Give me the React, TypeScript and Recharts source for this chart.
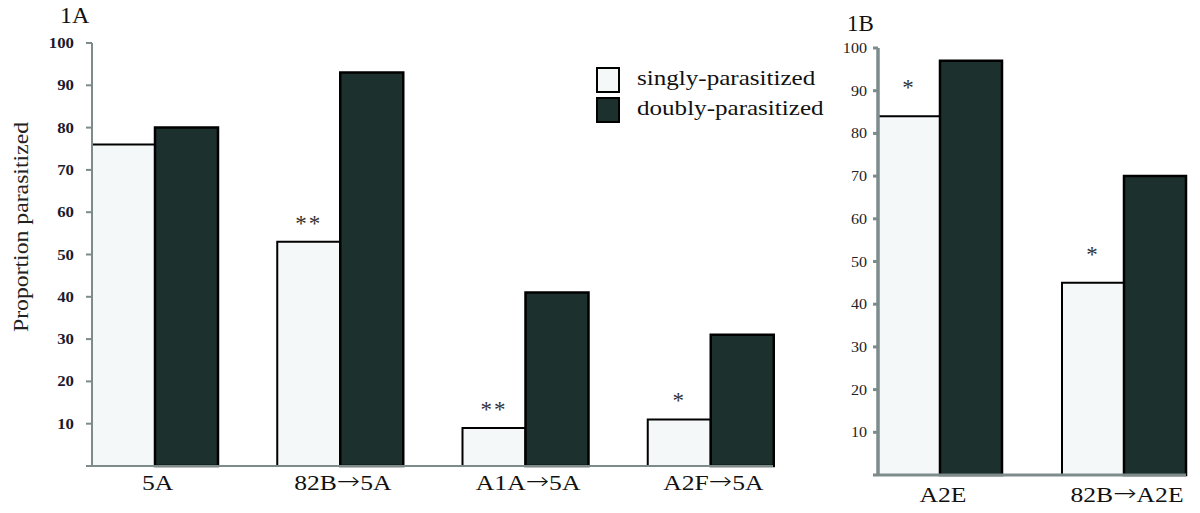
import React from 'react';
import { BarChart, Bar, XAxis, YAxis, LabelList } from 'recharts';

const categoriesA = ['5A', '82B→5A', 'A1A→5A', 'A2F→5A'];
const singlyA = [76, 53, 9, 11];
const doublyA = [80, 93, 41, 31];
const sigA = ['', '**', '**', '*'];

const categoriesB = ['A2E', '82B→A2E'];
const singlyB = [84, 45];
const doublyB = [97, 70];
const sigB = ['*', '*'];

const yTicks = [0, 10, 20, 30, 40, 50, 60, 70, 80, 90, 100];
const seriesNames = ['singly-parasitized', 'doubly-parasitized'];

const dataA = categoriesA.map((name, i) => ({ name, singly: singlyA[i], doubly: doublyA[i], sig: sigA[i] }));
const dataB = categoriesB.map((name, i) => ({ name, singly: singlyB[i], doubly: doublyB[i], sig: sigB[i] }));

const SERIF = '"Liberation Serif", "Times New Roman", "DejaVu Serif", serif';
const LIGHT = '#f5f8f8';
const DARK = '#1c302e';
const AXIS = '#7d8b8b';

function SText({ x, y, sx = 1, rot = 0, anchor = 'start', size, weight = 'normal', fill = '#111', children, spacing = 0 }: any) {
  return (
    <text
      x={0}
      y={0}
      transform={`translate(${x},${y}) rotate(${rot}) scale(${sx},1)`}
      textAnchor={anchor}
      fontFamily={SERIF}
      fontSize={size}
      fontWeight={weight}
      fill={fill}
      letterSpacing={spacing}
    >
      {children}
    </text>
  );
}

const renderArrowText = (s: string) => {
  const parts = s.split('→');
  if (parts.length === 1) return s;
  return [
    <tspan key="a">{parts[0]}</tspan>,
    <tspan key="b" fontFamily='"DejaVu Sans", sans-serif' fontSize={23} fontWeight={300} dy={-1}>→</tspan>,
    <tspan key="c" dy={1}>{parts[1]}</tspan>,
  ];
};

const makeYTick = (bold: boolean, sx: number) => (props: any) => {
  const { x, y, payload } = props;
  if (payload.value === 0) return <g />;
  return (
    <g>
      <SText x={x} y={y + 5} sx={sx} anchor="end" size={14} weight={bold ? 'bold' : 'normal'} fill={bold ? '#1a1a30' : '#222'}>
        {payload.value}
      </SText>
    </g>
  );
};

const makeXTick = (dy: number) => (props: any) => {
  const { x, y, payload } = props;
  return (
    <g>
      <SText x={x + 3} y={y + dy} sx={1.22} anchor="middle" size={21}>
        {renderArrowText(String(payload.value))}
      </SText>
    </g>
  );
};

const makeSig = (offset: number) => (props: any) => {
  const { x, y, width, value } = props;
  if (!value) return <g />;
  return (
    <SText x={x + width / 2} y={y - offset + 13} anchor="middle" size={23} fill="#333" spacing={2}>
      {value}
    </SText>
  );
};

export default function App() {
  return (
    <div style={{ position: 'absolute', left: 0, top: 0, width: 1200, height: 513, background: '#fff', overflow: 'hidden' }}>
      <div style={{ position: 'absolute', left: 0, top: 0 }}>
        <BarChart
          width={840}
          height={513}
          data={dataA}
          margin={{ top: 43, right: 67, bottom: 17, left: 52 }}
          barCategoryGap={30}
          barGap={0}
        >
          <XAxis
            dataKey="name"
            padding={{ left: -30, right: -30 }}
            axisLine={{ stroke: AXIS, strokeWidth: 2 }}
            tickLine={false}
            tickSize={0}
            tickMargin={0}
            height={30}
            interval={0}
            tick={makeXTick(24)}
          />
          <YAxis
            type="number"
            domain={[0, 100]}
            ticks={yTicks}
            interval={0}
            width={40}
            axisLine={{ stroke: AXIS, strokeWidth: 2 }}
            tickLine={{ stroke: AXIS, strokeWidth: 2 }}
            tickSize={6}
            tickMargin={12}
            tick={makeYTick(true, 1.2)}
            label={{
              content: () => (
                <SText x={28} y={227} rot={-90} sx={1.13} anchor="middle" size={21} fill="#222">
                  Proportion parasitized
                </SText>
              ),
            }}
          />
          <Bar dataKey="singly" name={seriesNames[0]} fill={LIGHT} stroke="#000" strokeWidth={2} isAnimationActive={false}>
            <LabelList dataKey="sig" content={makeSig(24)} />
          </Bar>
          <Bar dataKey="doubly" name={seriesNames[1]} fill={DARK} stroke="#000" strokeWidth={2.5} isAnimationActive={false} />
        </BarChart>
      </div>

      <div style={{ position: 'absolute', left: 830, top: 0 }}>
        <BarChart
          width={370}
          height={513}
          data={dataB}
          margin={{ top: 48, right: 14, bottom: 8, left: 18 }}
          barCategoryGap={30}
          barGap={0}
        >
          <XAxis
            dataKey="name"
            padding={{ left: -30, right: -30 }}
            axisLine={{ stroke: AXIS, strokeWidth: 3 }}
            tickLine={false}
            tickSize={0}
            tickMargin={0}
            height={30}
            interval={0}
            tick={makeXTick(27)}
          />
          <YAxis
            type="number"
            domain={[0, 100]}
            ticks={yTicks}
            interval={0}
            width={30}
            axisLine={{ stroke: AXIS, strokeWidth: 3.5 }}
            tickLine={{ stroke: AXIS, strokeWidth: 3 }}
            tickSize={5}
            tickMargin={6}
            tick={makeYTick(false, 1.15)}
          />
          <Bar dataKey="singly" name={seriesNames[0]} fill={LIGHT} stroke="#000" strokeWidth={2} isAnimationActive={false}>
            <LabelList dataKey="sig" content={makeSig(34)} />
          </Bar>
          <Bar dataKey="doubly" name={seriesNames[1]} fill={DARK} stroke="#000" strokeWidth={2.5} isAnimationActive={false} />
        </BarChart>
      </div>

      <svg style={{ position: 'absolute', left: 0, top: 0, pointerEvents: 'none' }} width={1200} height={513}>
        <SText x={60} y={23} size={24}>1A</SText>
        <SText x={847} y={31} size={23}>1B</SText>
        <rect x={597} y={68} width={22} height={24} fill={LIGHT} stroke="#000" strokeWidth={2} />
        <rect x={597} y={98} width={22} height={24} fill={DARK} stroke="#000" strokeWidth={2} />
        <SText x={637} y={85} sx={1.14} size={22}>{seriesNames[0]}</SText>
        <SText x={637} y={115} sx={1.14} size={22}>{seriesNames[1]}</SText>
      </svg>
    </div>
  );
}
